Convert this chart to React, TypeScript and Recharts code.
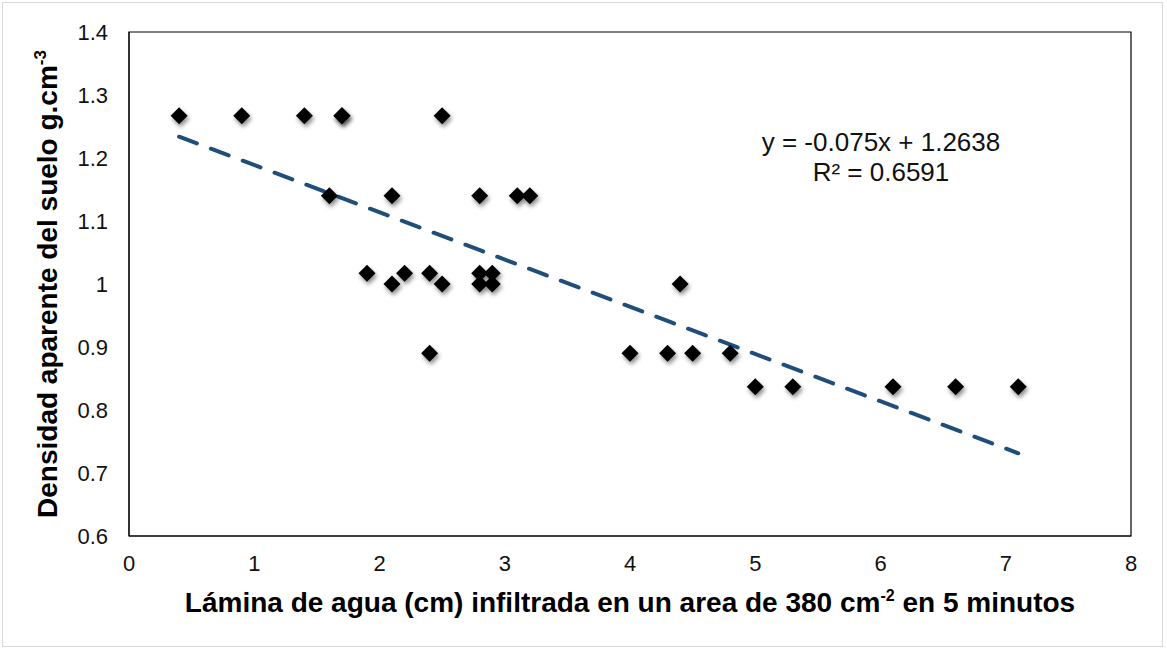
import { ScatterChart, Scatter, XAxis, YAxis, ReferenceArea, ReferenceLine, Label } from 'recharts'

// lámina infiltrada (cm) y densidad aparente (g/cm3)
const laminaCm = [
  0.4, 0.9, 1.4, 1.7, 1.7, 2.5,
  1.6, 2.1, 2.8, 3.1, 3.2,
  1.9, 2.2, 2.4, 2.8, 2.9,
  2.1, 2.5, 2.8, 2.9, 4.4,
  2.4, 4.0, 4.3, 4.5, 4.8,
  5.0, 5.3, 6.1, 6.6, 7.1
]
const densidad = [
  1.267, 1.267, 1.267, 1.267, 1.267, 1.267,
  1.14, 1.14, 1.14, 1.14, 1.14,
  1.017, 1.017, 1.017, 1.017, 1.017,
  1.0, 1.0, 1.0, 1.0, 1.0,
  0.89, 0.89, 0.89, 0.89, 0.89,
  0.837, 0.837, 0.837, 0.837, 0.837
]
const xTicks = [0, 1, 2, 3, 4, 5, 6, 7, 8]
const yTicks = [0.6, 0.7, 0.8, 0.9, 1.0, 1.1, 1.2, 1.3, 1.4]

// tendencia lineal (Excel)
const slope = -0.075
const intercept = 1.2638
const trendFrom = 0.4
const trendTo = 7.1

const points = laminaCm.map((x, i) => ({ x, y: densidad[i] }))

const FONT = '"Liberation Sans", Arial, sans-serif'
const TICK = { fill: '#111', fontSize: 22, fontFamily: FONT }

const Diamond = (props: any) => {
  const { cx, cy } = props
  const r = 8.5
  return (
    <path
      d={`M${cx},${cy - r}L${cx + r},${cy}L${cx},${cy + r}L${cx - r},${cy}Z`}
      fill="#000"
      filter="url(#mk-shadow)"
    />
  )
}

const XTitle = (props: any) => {
  const vb = props.viewBox
  return (
    <text
      x={vb.x + vb.width / 2}
      y={612}
      textAnchor="middle"
      fontFamily={FONT}
      fontWeight="bold"
      fontSize={28}
      fill="#000"
    >
      Lámina de agua (cm) infiltrada en un area de 380 cm
      <tspan dy={-11} fontSize={16}>-2</tspan>
      <tspan dy={11}> en 5 minutos</tspan>
    </text>
  )
}

const YTitle = (props: any) => {
  const vb = props.viewBox
  const cx = 57
  const cy = vb.y + vb.height / 2
  return (
    <text
      x={cx}
      y={cy}
      transform={`rotate(-90 ${cx} ${cy})`}
      textAnchor="middle"
      fontFamily={FONT}
      fontWeight="bold"
      fontSize={28}
      fill="#000"
    >
      Densidad aparente del suelo g.cm
      <tspan dy={-11} fontSize={17}>-3</tspan>
    </text>
  )
}

export default function App() {
  return (
    <div style={{ position: 'relative', width: 1167, height: 650, background: '#fff' }}>
      <style>{'body{margin:0}'}</style>
      <svg width={0} height={0} style={{ position: 'absolute' }}>
        <defs>
          <filter id="mk-shadow" x="-50%" y="-50%" width="220%" height="220%">
            <feDropShadow dx={1.5} dy={3} stdDeviation={2} floodColor="#000" floodOpacity={0.45} />
          </filter>
        </defs>
      </svg>
      <div
        style={{
          position: 'absolute',
          left: 2,
          top: 2,
          width: 1161,
          height: 645,
          border: '1px solid #d9d9d9',
          boxSizing: 'border-box'
        }}
      />
      <ScatterChart width={1167} height={650} margin={{ top: 32, right: 36, bottom: 0, left: 0 }}>
        <XAxis
          type="number"
          dataKey="x"
          domain={[0, 8]}
          ticks={xTicks}
          tick={TICK}
          tickLine={false}
          tickSize={0}
          tickMargin={19}
          axisLine={{ stroke: '#000' }}
          height={114}
        >
          <Label content={<XTitle />} />
        </XAxis>
        <YAxis
          type="number"
          dataKey="y"
          domain={[0.6, 1.4]}
          ticks={yTicks}
          tick={TICK}
          tickLine={false}
          tickSize={0}
          tickMargin={21}
          tickFormatter={(v) => `${Number(Number(v).toFixed(1))}`}
          axisLine={{ stroke: '#000' }}
          width={129}
        >
          <Label content={<YTitle />} />
        </YAxis>
        <ReferenceArea x1={0} x2={8} y1={0.6} y2={1.4} fill="none" stroke="#000" strokeWidth={1.2} />
        <ReferenceLine
          segment={[
            { x: trendFrom, y: slope * trendFrom + intercept },
            { x: trendTo, y: slope * trendTo + intercept }
          ]}
          stroke="#1f4e79"
          strokeWidth={4}
          strokeDasharray="19 15"
          strokeLinecap="round"
        />
        <Scatter data={points} shape={<Diamond />} isAnimationActive={false} />
      </ScatterChart>
      <div
        style={{
          position: 'absolute',
          left: 731,
          top: 127,
          width: 300,
          textAlign: 'center',
          fontFamily: FONT,
          fontSize: 26,
          lineHeight: '30px',
          color: '#111'
        }}
      >
        <div>y = -0.075x + 1.2638</div>
        <div>R² = 0.6591</div>
      </div>
    </div>
  )
}
